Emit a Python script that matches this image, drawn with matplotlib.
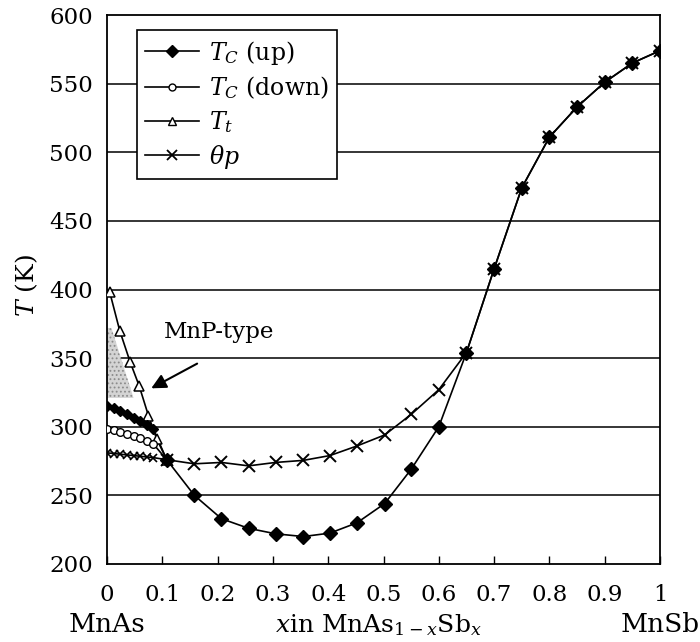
import matplotlib
matplotlib.use("Agg")
import matplotlib.pyplot as plt
import numpy as np

plt.rcParams['font.family'] = ['DejaVu Serif']
plt.rcParams['mathtext.fontset'] = 'dejavuserif'
plt.rcParams['hatch.linewidth'] = 0.8

# ---- data ----
x_up = [0, 0.012, 0.024, 0.036, 0.048, 0.06, 0.072, 0.084,
        0.108, 0.158, 0.207, 0.256, 0.305, 0.355, 0.403, 0.452, 0.502, 0.55, 0.6,
        0.65, 0.7, 0.75, 0.8, 0.85, 0.9, 0.95, 1.0]
tc_up = [315, 313.5, 311.5, 309, 306.5, 304, 301, 298,
         276, 250, 233, 226, 222, 220, 222.5, 230, 244, 269, 300,
         354, 415, 474, 511, 533, 551, 565, 574]

x_down = [0, 0.012, 0.024, 0.036, 0.048, 0.06, 0.072, 0.084, 0.108]
tc_down = [298.7, 297.7, 296.2, 295, 293.3, 291.6, 289.7, 287.3, 276]

x_t = [0.005, 0.023, 0.042, 0.058, 0.075, 0.09, 0.108]
t_t = [398, 370, 347, 330, 308, 291, 276]

x_theta = [0, 0.012, 0.024, 0.036, 0.048, 0.06, 0.072, 0.084,
           0.108, 0.158, 0.207, 0.256, 0.305, 0.355, 0.403, 0.452, 0.502, 0.55, 0.6,
           0.65, 0.7, 0.75, 0.8, 0.85, 0.9, 0.95, 1.0]
theta_p = [281, 280.5, 280, 279.5, 279, 278.5, 278, 277.5,
           276, 273, 274, 271.5, 274, 275.5, 279, 286, 294, 309, 327,
           354, 415, 474, 511, 533, 551, 565, 574]

# MnP-type shaded region
mnp_x = [0, 0.008, 0.048, 0]
mnp_T = [372, 372, 321, 321]

x_ticks = [0, 0.1, 0.2, 0.3, 0.4, 0.5, 0.6, 0.7, 0.8, 0.9, 1.0]
x_ticklabels = ['0', '0.1', '0.2', '0.3', '0.4', '0.5', '0.6', '0.7', '0.8', '0.9', '1']
y_ticks = [200, 250, 300, 350, 400, 450, 500, 550, 600]

fig = plt.figure(figsize=(7, 6.42), dpi=100)
ax = fig.add_axes([107/700, 1-564/642, 553/700, 549/642])

ax.set_xlim(0, 1)
ax.set_ylim(200, 600)

for yv in y_ticks[1:-1]:
    ax.axhline(yv, color='black', lw=1.1, zorder=1)

ax.fill(mnp_x, mnp_T, facecolor='#d4d4d4', edgecolor='none', zorder=1.5)
ax.fill(mnp_x, mnp_T, facecolor='none', edgecolor='#8c8c8c', lw=0, hatch='....', zorder=1.6)

lw = 1.2
# lines
ax.plot(x_theta, theta_p, color='black', lw=lw, zorder=2)
ax.plot(x_t, t_t, color='black', lw=lw, zorder=2)
ax.plot(x_down, tc_down, color='black', lw=lw, zorder=2)
ax.plot(x_up, tc_up, color='black', lw=lw, zorder=2)

xa_th = np.array(x_theta); ya_th = np.array(theta_p)
xa_up = np.array(x_up); ya_up = np.array(tc_up)
sm_th = xa_th < 0.1
sm_up = xa_up < 0.1

ax.plot(xa_th[sm_th], ya_th[sm_th], ls='none', marker='x', ms=6, mew=1.2, color='black', zorder=3)
ax.plot(xa_th[~sm_th], ya_th[~sm_th], ls='none', marker='x', ms=8, mew=1.4, color='black', zorder=3)
ax.plot(x_t, t_t, ls='none', marker='^', ms=7, mew=1.1, mfc='white', mec='black', zorder=3)
ax.plot(x_down, tc_down, ls='none', marker='o', ms=5.5, mew=1.0, mfc='white', mec='black', zorder=3)
ax.plot(xa_up[sm_up], ya_up[sm_up], ls='none', marker='D', ms=5.5, color='black', zorder=4)
ax.plot(xa_up[~sm_up], ya_up[~sm_up], ls='none', marker='D', ms=7, color='black', zorder=4)

# legend handles
h1, = ax.plot([], [], color='black', lw=lw, marker='D', ms=6)
h2, = ax.plot([], [], color='black', lw=lw, marker='o', ms=5, mfc='white')
h3, = ax.plot([], [], color='black', lw=lw, marker='^', ms=6, mfc='white')
h4, = ax.plot([], [], color='black', lw=lw, marker='x', ms=7, mew=1.3)
leg = ax.legend([h1, h2, h3, h4],
                [r'$T_C$ (up)', r'$T_C$ (down)', r'$T_t$', r'$\theta p$'],
                loc='upper left', bbox_to_anchor=(0.054, 0.972), borderaxespad=0,
                fontsize=17, handlelength=2.3, handletextpad=0.4, labelspacing=0.33,
                borderpad=0.35, fancybox=False, framealpha=1, edgecolor='black')
leg.get_frame().set_linewidth(1.2)
leg.set_zorder(5)

ax.text(0.102, 365, 'MnP-type', fontsize=16.5, ha='left', va='baseline', zorder=6)
ax.annotate('', xy=(0.08, 328), xytext=(0.163, 346),
            arrowprops=dict(arrowstyle='-|>', color='black', lw=1.5, mutation_scale=22,
                            shrinkA=0, shrinkB=0), zorder=6)

ax.set_xticks(x_ticks)
ax.set_xticklabels(x_ticklabels)
ax.set_yticks(y_ticks)
ax.tick_params(axis='x', direction='in', length=6, width=1, pad=14.5, labelsize=16.5)
ax.tick_params(axis='y', length=0, pad=10, labelsize=16.5)
for s in ax.spines.values():
    s.set_linewidth(1.3)

trans = matplotlib.transforms.blended_transform_factory(ax.transData, ax.transAxes)
yb = (564 - 632) / 549
ax.text(0.0, yb, 'MnAs', transform=trans, ha='center', va='baseline', fontsize=19)
ax.text(1.0, yb, 'MnSb', transform=trans, ha='center', va='baseline', fontsize=19)
ax.text(0.49, yb, r'$x$in MnAs$_{1-x}$Sb$_x$', transform=trans, ha='center', va='baseline', fontsize=18)

fig.text(27/700, 1 - 286/642, r'$T$ (K)', rotation=90, ha='center', va='center', fontsize=18)

fig.savefig('out.png', dpi=100)
